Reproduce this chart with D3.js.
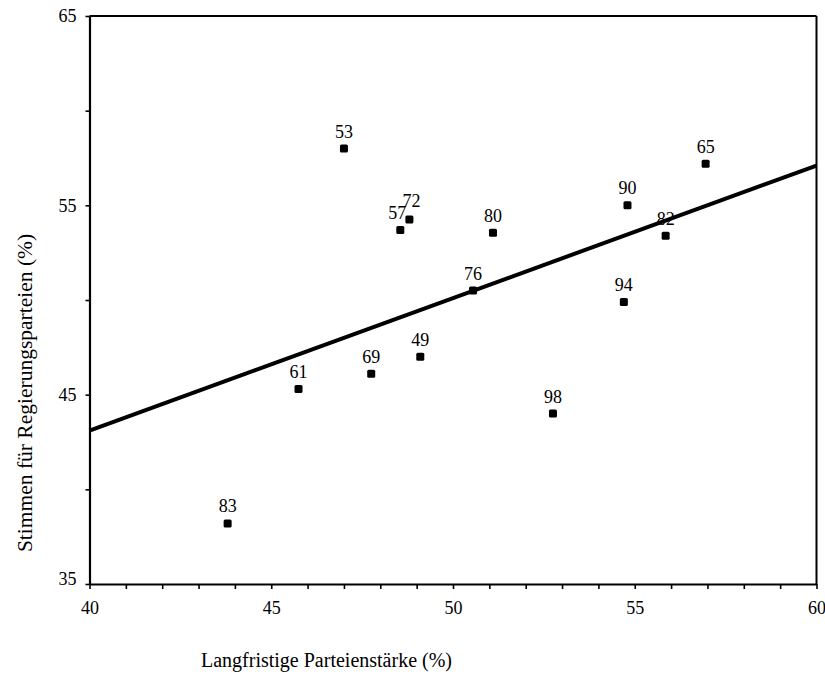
<!DOCTYPE html>
<html><head><meta charset="utf-8">
<script src="https://cdn.jsdelivr.net/npm/d3@7"></script>
<style>
body{margin:0;background:#fff;}
text{font-family:"Liberation Serif","Times New Roman",serif;fill:#000;}
</style></head>
<body><svg id="chart" width="825" height="678"></svg>
<script>
const labels = ["53","72","57","80","76","65","90","82","94","61","69","49","98","83"];
const xValues = [47.0,48.8,48.55,51.1,50.55,56.95,54.8,55.85,54.7,45.75,47.75,49.1,52.75,43.8];
const yValues = [58.0,54.25,53.7,53.55,50.5,57.2,55.0,53.4,49.9,45.3,46.1,47.0,44.0,38.2];
const fitX = [40,60];
const fitY = [43.1,57.1];
const xTickLabels = [40,45,50,55,60];
const yTickLabels = [35,45,55,65];
const xTitle = "Langfristige Parteienstärke (%)";
const yTitle = "Stimmen für Regierungsparteien  (%)";

const svg = d3.select("#chart");
const L=89.5, R=816.5, T=16, B=584;
const x = d3.scaleLinear().domain([40,60]).range([L,R]);
const y = d3.scaleLinear().domain([35,65]).range([B,T]);

// frame
svg.append("line").attr("x1",L).attr("x2",R).attr("y1",T).attr("y2",T).attr("stroke","#000").attr("stroke-width",2);
svg.append("line").attr("x1",R).attr("x2",R).attr("y1",T).attr("y2",B).attr("stroke","#000").attr("stroke-width",2);

// x axis
const xa = svg.append("g").attr("transform",`translate(0,${B})`)
  .call(d3.axisBottom(x).tickValues(d3.range(40,61,1)).tickSize(5).tickSizeOuter(0)
    .tickFormat(d=>xTickLabels.includes(d)?d:""));
xa.select(".domain").attr("stroke-width",2.2);
xa.selectAll(".tick line").attr("stroke-width",1.6);
xa.selectAll("text").attr("font-size",18).attr("dy","0").attr("y",30);

// y axis
const ya = svg.append("g").attr("transform",`translate(${L},0)`)
  .call(d3.axisLeft(y).tickValues(d3.range(35,66,5)).tickSize(4).tickSizeOuter(0)
    .tickFormat(d=>yTickLabels.includes(d)?d:""));
ya.select(".domain").attr("stroke-width",2.2);
ya.selectAll(".tick line").attr("stroke-width",1.6);
ya.selectAll("text").attr("font-size",18).attr("x",-13).attr("dy",d=>d===35?"0":"0.33em");

// regression line
svg.append("line")
  .attr("x1",x(fitX[0])).attr("y1",y(fitY[0]))
  .attr("x2",x(fitX[1])).attr("y2",y(fitY[1]))
  .attr("stroke","#000").attr("stroke-width",4);

// points
const data = labels.map((l,i)=>({l,x:xValues[i],y:yValues[i]}));
svg.selectAll("rect.pt").data(data).enter().append("rect")
  .attr("class","pt")
  .attr("x",d=>x(d.x)-4).attr("y",d=>y(d.y)-4)
  .attr("width",8).attr("height",8).attr("rx",1.5)
  .attr("fill","#000");
svg.selectAll("text.lbl").data(data).enter().append("text")
  .attr("class","lbl")
  .attr("x",d=>x(d.x)+(d.l==="57"?-3:(d.l==="72"?2:0)))
  .attr("y",d=>y(d.y)-(d.l==="72"?13:11))
  .attr("text-anchor","middle").attr("font-size",18)
  .text(d=>d.l);

// titles
svg.append("text").attr("x",201).attr("y",667).attr("text-anchor","start")
  .attr("font-size",20).text(xTitle);
svg.append("text").attr("transform","translate(32,393) rotate(-90)")
  .attr("text-anchor","middle").attr("font-size",21.5).text(yTitle);
</script></body></html>
